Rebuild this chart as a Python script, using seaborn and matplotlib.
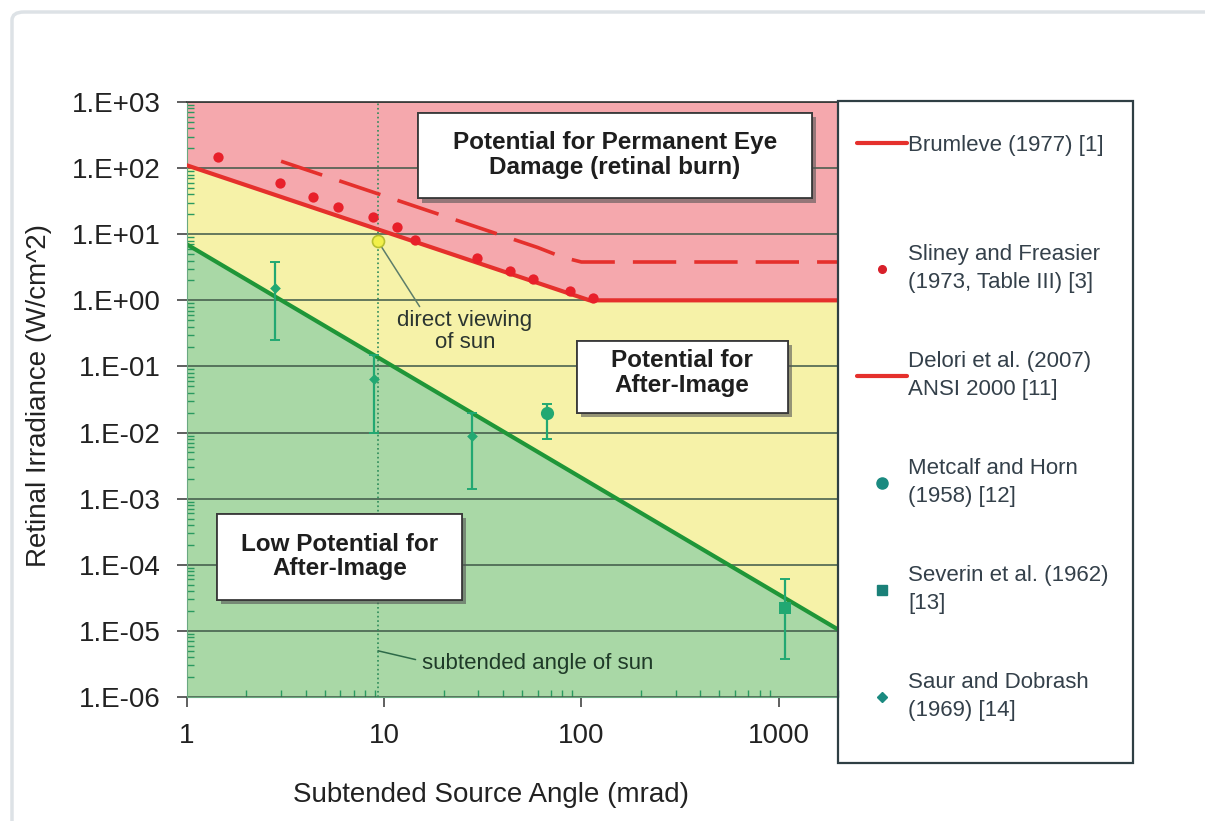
import numpy as np
import seaborn as sns
import matplotlib
matplotlib.use('Agg')
import matplotlib.pyplot as plt
from matplotlib.lines import Line2D
from matplotlib.patches import Rectangle, FancyBboxPatch
from matplotlib import patheffects
from matplotlib.ticker import FixedLocator, FuncFormatter, LogLocator, NullFormatter

# Delori et al. (2007) / ANSI 2000 limit (solid red)
delori_x = [1, 110, 2000]
delori_y = [110, 1.0, 1.0]

# Brumleve (1977) limit (dashed red)
brumleve_x = [3, 60, 80, 100, 2000]
brumleve_y = [127, 6.3, 4.5, 3.8, 3.8]

# after-image threshold (green)
green_x = [1, 2000]
green_y = [7.0, 1.05e-5]

# Sliney and Freasier (1973, Table III)
sliney_x = [1.44, 2.97, 4.36, 5.8, 8.8, 11.6, 14.3, 29.6, 43.5, 56.9, 87.5, 114.5]
sliney_y = [147, 59, 36, 26, 18, 12.8, 8.1, 4.3, 2.75, 2.08, 1.37, 1.07]

# Saur and Dobrash (1969)
saur_x = [2.8, 8.9, 27.9]
saur_y = [1.52, 0.0635, 0.009]
saur_lo = [0.248, 0.010, 0.0014]
saur_hi = [3.76, 0.147, 0.0195]

# Metcalf and Horn (1958)
metcalf_x = [67]
metcalf_y = [0.0195]
metcalf_lo = [0.0081]
metcalf_hi = [0.0275]

# Severin et al. (1962)
severin_x = [1075]
severin_y = [2.2e-5]
severin_lo = [3.8e-6]
severin_hi = [6.2e-5]

# direct viewing of the sun
sun_angle = 9.3
sun_irr = 7.8

y_ticks = [1e-6, 1e-5, 1e-4, 1e-3, 1e-2, 1e-1, 1e0, 1e1, 1e2, 1e3]
x_ticks = [1, 10, 100, 1000]

legend_labels = ['Brumleve (1977) [1]',
                 'Sliney and Freasier\n(1973, Table III) [3]',
                 'Delori et al. (2007)\nANSI 2000 [11]',
                 'Metcalf and Horn\n(1958) [12]',
                 'Severin et al. (1962)\n[13]',
                 'Saur and Dobrash\n(1969) [14]']

sns.set_style('ticks')
plt.rcParams['font.family'] = ['Liberation Sans', 'DejaVu Sans']

RED_BG = '#f5a8ad'
YEL_BG = '#f6f2a8'
GRN_BG = '#a9d8a6'
RED = '#e5302c'
GREEN = '#1f9638'
ERR = '#22a872'

fig = plt.figure(figsize=(12.05, 8.21), dpi=100)
ax = fig.add_axes([187/1205, 1-697/821, 651/1205, 595/821])
ax.set_xscale('log')
ax.set_yscale('log')
ax.set_xlim(1, 2000)
ax.set_ylim(1e-6, 1e3)

# coloured zones
ax.set_facecolor(RED_BG)
ax.fill_between(delori_x, 1e-6, delori_y, color=YEL_BG, lw=0, zorder=0.1)
ax.fill_between(green_x, 1e-6, green_y, color=GRN_BG, lw=0, zorder=0.2)

ax.grid(axis='y', which='major', color='#3e5848', lw=1.1)
ax.grid(axis='x', which='both', visible=False)
ax.axvline(sun_angle, color='#2d8a5a', ls=':', lw=1.2, zorder=1.6)

# limit lines
sns.lineplot(x=green_x, y=green_y, color=GREEN, lw=3, ax=ax, zorder=2.5)
sns.lineplot(x=delori_x, y=delori_y, color=RED, lw=3, ax=ax, zorder=2.6)
sns.lineplot(x=brumleve_x, y=brumleve_y, color=RED, lw=2.6,
             linestyle=(0, (12, 5)), ax=ax, zorder=2.6)

# data points
sns.scatterplot(x=sliney_x, y=sliney_y, color='#e8202a', s=55, marker='o',
                linewidth=0, ax=ax, zorder=4)

for xs, ys, lo, hi, mk, sz in [(saur_x, saur_y, saur_lo, saur_hi, 'D', 30),
                               (metcalf_x, metcalf_y, metcalf_lo, metcalf_hi, 'o', 90),
                               (severin_x, severin_y, severin_lo, severin_hi, 's', 70)]:
    ys_a = np.array(ys)
    yerr = [ys_a - np.array(lo), np.array(hi) - ys_a]
    ax.errorbar(xs, ys, yerr=yerr, fmt='none', ecolor=ERR, elinewidth=1.6,
                capsize=3.5, capthick=1.4, zorder=3)
    sns.scatterplot(x=xs, y=ys, color=ERR, marker=mk, s=sz, linewidth=0,
                    ax=ax, zorder=4)

sns.scatterplot(x=[sun_angle], y=[sun_irr], color='#f2f04a', edgecolor='#b8c030',
                s=75, linewidth=1.2, ax=ax, zorder=4)

# annotations
ax.annotate('direct viewing\nof sun', xy=(sun_angle, sun_irr), xytext=(0.427, 0.614),
            textcoords='axes fraction', ha='center', va='center', fontsize=16,
            color='#2b3530', linespacing=1.1,
            arrowprops=dict(arrowstyle='-', color='#5d7d6a', lw=1.1, relpos=(0.18, 1.0),
                            shrinkA=0, shrinkB=3))
ax.annotate('subtended angle of sun', xy=(sun_angle, 5e-6), xytext=(0.538, 0.057),
            textcoords='axes fraction', ha='center', va='center', fontsize=16,
            color='#1f3a28',
            arrowprops=dict(arrowstyle='-', color='#2d6a48', lw=1.1, relpos=(0.0, 0.6),
                            shrinkA=2, shrinkB=0))

# zone label boxes
shadow = [patheffects.withSimplePatchShadow(offset=(3, -3), shadow_rgbFace='#555555', alpha=0.6),
          patheffects.Normal()]
boxes = [((0.355, 0.838), 0.605, 0.1435, 'Potential for Permanent Eye\nDamage (retinal burn)', (0.657, 0.911)),
         ((0.599, 0.478), 0.324, 0.121, 'Potential for\nAfter-Image', (0.760, 0.545)),
         ((0.046, 0.163), 0.376, 0.145, 'Low Potential for\nAfter-Image', (0.235, 0.236))]
for (bx, by), bw, bh, txt, (tx, ty) in boxes:
    rect = Rectangle((bx, by), bw, bh, transform=ax.transAxes, facecolor='white',
                     edgecolor='#3a3a3a', lw=1.3, zorder=5)
    rect.set_path_effects(shadow)
    ax.add_patch(rect)
    ax.text(tx, ty, txt, transform=ax.transAxes, ha='center', va='center',
            fontsize=17.5, fontweight='bold', color='#1e1e1e', linespacing=1.1, zorder=6)

# axes, ticks
ax.yaxis.set_major_locator(FixedLocator(y_ticks))
ax.yaxis.set_major_formatter(FuncFormatter(lambda v, _: f"1.E{int(round(np.log10(v))):+03d}"))
ax.yaxis.set_minor_locator(LogLocator(base=10, subs=np.arange(2, 10), numticks=30))
ax.yaxis.set_minor_formatter(NullFormatter())
ax.xaxis.set_major_locator(FixedLocator(x_ticks))
ax.xaxis.set_major_formatter(FuncFormatter(lambda v, _: f"{v:g}"))
ax.xaxis.set_minor_locator(LogLocator(base=10, subs=np.arange(2, 10), numticks=30))
ax.xaxis.set_minor_formatter(NullFormatter())

ax.tick_params(which='major', direction='out', length=7, width=1.2, color='#444444',
               labelsize=20, labelcolor='#222222', pad=12)
ax.tick_params(which='minor', direction='in', length=5, width=1, color='#2a9a60')
ax.tick_params(axis='y', which='minor', left=True)

for side in ['left', 'bottom']:
    ax.spines[side].set_color('#6aa880')
    ax.spines[side].set_linewidth(0.8)
for side in ['top', 'right']:
    ax.spines[side].set_color('#333333')
    ax.spines[side].set_linewidth(1.2)

ax.set_xlabel('Subtended Source Angle (mrad)', fontsize=20, color='#222222')
ax.set_ylabel('Retinal Irradiance (W/cm^2)', fontsize=20, color='#222222')
ax.xaxis.set_label_coords(0.467, -0.165)
ax.xaxis.label.set_va('center')
ax.yaxis.set_label_coords(-0.228, 0.507)
ax.yaxis.label.set_va('center')

# legend: frame drawn as its own box, entries placed inside it
fig.add_artist(Rectangle((838/1205, 1-763/821), 295/1205, 662/821, transform=fig.transFigure,
                         fill=False, edgecolor='#2f3f44', lw=1.6))
handles = [Line2D([], [], color=RED, lw=3),
           Line2D([], [], ls='none', marker='o', ms=5.5, color='#d8202a'),
           Line2D([], [], color=RED, lw=3),
           Line2D([], [], ls='none', marker='o', ms=8, color='#1a8a80'),
           Line2D([], [], ls='none', marker='s', ms=7, color='#1a8078'),
           Line2D([], [], ls='none', marker='D', ms=5, color='#1a8a80')]
leg_kw = dict(loc='upper left', frameon=False, fontsize=16, handlelength=2.25,
              handletextpad=0.05, borderpad=0, borderaxespad=0)
leg_a = fig.legend(handles[:1], legend_labels[:1],
                   bbox_to_anchor=(857/1205, 1-135/821), **leg_kw)
leg_b = fig.legend(handles[1:], legend_labels[1:],
                   bbox_to_anchor=(857/1205, 1-244/821), labelspacing=2.6, **leg_kw)
for leg in (leg_a, leg_b):
    for t in leg.get_texts():
        t.set_color('#34404a')
        t.set_linespacing(1.45)

# light outer frame of the slide
fig.patches.append(FancyBboxPatch((12/1205, -0.2), 1.2, 1.2 - 12/821,
                                  boxstyle='round,pad=0,rounding_size=0.01',
                                  transform=fig.transFigure, facecolor='none',
                                  edgecolor='#dde2e6', lw=2.5))

fig.savefig('out.png', dpi=100)
